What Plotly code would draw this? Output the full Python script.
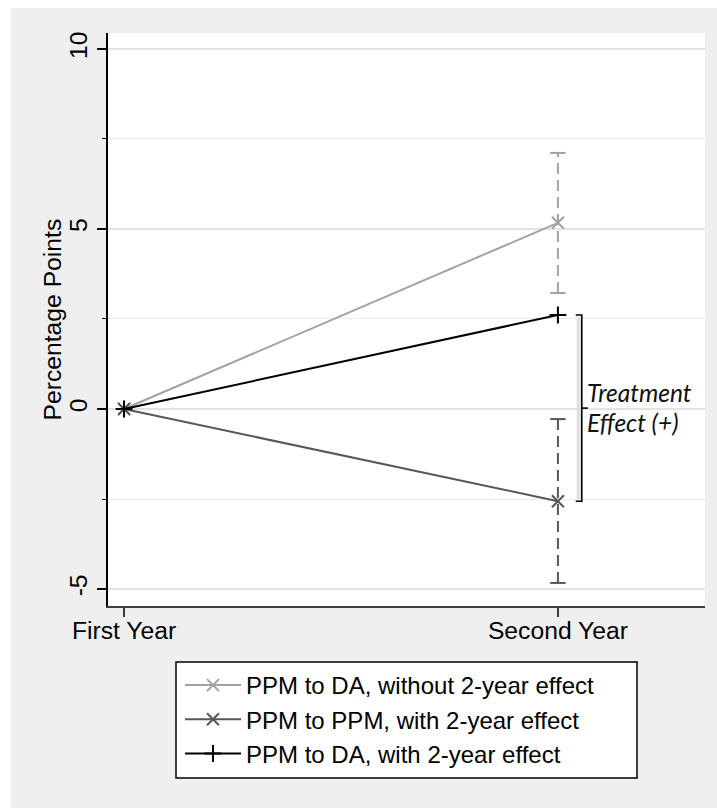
import plotly.graph_objects as go

# ---- data -------------------------------------------------------------
periods = ["First Year", "Second Year"]
period_pos = [0, 1]

ppm_da_without = [0.0, 5.17]      # PPM to DA, without 2-year effect
ppm_da_without_ci = [3.22, 7.11]  # 95% interval, second year

ppm_ppm_with = [0.0, -2.56]       # PPM to PPM, with 2-year effect
ppm_ppm_with_ci = [-4.83, -0.28]

ppm_da_with = [0.0, 2.61]         # PPM to DA, with 2-year effect

y_ticks = [-5, 0, 5, 10]
y_tick_text = ["-5", "0", "5", "10"]

# ---- styling ----------------------------------------------------------
W, H = 717, 808
L, R, T, B = 108, 705, 33, 606          # plot area in pixels
FONT = "Liberation Sans, Arial, Helvetica, sans-serif"
FS = 24.7
LIGHT = "#a2a2a2"
DARK = "#575757"
BLACK = "#000000"
BG = "#efefef"


def px_x(p):
    return (p - L) / (R - L)


def px_y(p):
    return (B - p) / (B - T)


fig = go.Figure()

# confidence intervals (dashed, capped)
for ci, col in [(ppm_da_without_ci, LIGHT), (ppm_ppm_with_ci, DARK)]:
    xs = [period_pos[1]] * 2
    fig.add_trace(go.Scatter(
        x=xs, y=ci, mode="lines",
        line=dict(color=col, width=2, dash="11px,6px"),
        showlegend=False, hoverinfo="skip"))
    fig.add_trace(go.Scatter(
        x=xs, y=ci, mode="markers",
        marker=dict(symbol="line-ew", size=11,
                    line=dict(color=col, width=2)),
        showlegend=False, hoverinfo="skip"))

series = [
    ("PPM to DA, without 2-year effect", ppm_da_without, LIGHT, "x-thin"),
    ("PPM to PPM, with 2-year effect", ppm_ppm_with, DARK, "x-thin"),
    ("PPM to DA, with 2-year effect", ppm_da_with, BLACK, "cross-thin"),
]
for name, vals, col, sym in series:
    fig.add_trace(go.Scatter(
        x=period_pos, y=vals, mode="lines+markers", name=name,
        line=dict(color=col, width=2),
        marker=dict(symbol=sym, size=12, color=col,
                    line=dict(color=col, width=2)),
        cliponaxis=False))

# bracket marking the treatment effect between the two "with" series
top, bot = ppm_da_with[1], ppm_ppm_with[1]
mid = (top + bot) / 2
bx = period_pos[1] + 0.055
hook = 0.014
fig.add_trace(go.Scatter(
    x=[bx - 0.007] * 2, y=[top - 0.05, bot + 0.05], mode="lines",
    line=dict(color="#e0e0e0", width=4),
    showlegend=False, hoverinfo="skip"))
fig.add_trace(go.Scatter(
    x=[bx - hook, bx, bx, bx - hook], y=[top, top, bot, bot], mode="lines",
    line=dict(color=BLACK, width=1.6),
    showlegend=False, hoverinfo="skip"))
fig.add_trace(go.Scatter(
    x=[bx, bx + hook], y=[mid, mid], mode="lines",
    line=dict(color=BLACK, width=1.6),
    showlegend=False, hoverinfo="skip"))

label_font = dict(family="Lato, Carlito, Open Sans, sans-serif",
                  size=24.5, color="#111111")
for txt, dy in [("<i>Treatment</i>", 0.44), ("<i>Effect (+)</i>", -0.39)]:
    fig.add_annotation(x=bx + hook, y=mid + dy, text=txt,
                       xanchor="left", yanchor="middle", showarrow=False,
                       xshift=-3, font=label_font)

# y-axis title
fig.add_annotation(xref="paper", yref="paper", x=px_x(52), y=0.5,
                   text="Percentage Points", textangle=-90,
                   xanchor="center", yanchor="middle", showarrow=False,
                   font=dict(family=FONT, size=FS, color="black"))

# outer frame: light grey page with a thin white border top and left
fig.add_shape(type="rect", xref="paper", yref="paper",
              x0=px_x(0), x1=px_x(11), y0=px_y(H), y1=px_y(0),
              fillcolor="white", line_width=0, layer="below")
fig.add_shape(type="rect", xref="paper", yref="paper",
              x0=px_x(0), x1=px_x(W), y0=px_y(8), y1=px_y(0),
              fillcolor="white", line_width=0, layer="below")
# legend frame
fig.add_shape(type="rect", xref="paper", yref="paper",
              x0=px_x(176), x1=px_x(637), y0=px_y(778), y1=px_y(662),
              fillcolor="white", line=dict(color="black", width=1.5),
              layer="above")

fig.update_layout(
    width=W, height=H,
    margin=dict(l=L, r=W - R, t=T, b=H - B, autoexpand=False),
    paper_bgcolor=BG, plot_bgcolor="white",
    font=dict(family=FONT, size=FS, color="black"),
    showlegend=True,
    legend=dict(
        x=px_x(180), y=px_y(663), xanchor="left", yanchor="top",
        bgcolor="rgba(0,0,0,0)", borderwidth=0,
        font=dict(family=FONT, size=24, color="black"),
        itemwidth=56, tracegroupgap=0, traceorder="normal"),
)

fig.update_xaxes(
    range=[-0.037, 1.339], tickvals=period_pos, ticktext=periods,
    showgrid=False, zeroline=False,
    showline=True, linecolor="#3c3c3c", linewidth=2,
    ticks="outside", ticklen=9, tickcolor="#3c3c3c", tickwidth=1.5,
    ticklabelstandoff=-8,
    tickfont=dict(family=FONT, size=FS, color="black"),
)
fig.update_yaxes(
    range=[-5.47, 10.44], tickvals=y_ticks, ticktext=y_tick_text,
    tickangle=-90,
    showgrid=True, gridcolor="#e3e3e3", gridwidth=2, zeroline=False,
    showline=True, linecolor="black", linewidth=1.5,
    ticks="outside", ticklen=9, tickcolor="black", tickwidth=1.5,
    tickfont=dict(family=FONT, size=FS, color="black"),
    minor=dict(dtick=2.5, tick0=0, ticks="outside", ticklen=4,
               tickcolor="black", tickwidth=1,
               showgrid=True, gridcolor="#ececec", gridwidth=1),
)

fig.write_html("out.html")
